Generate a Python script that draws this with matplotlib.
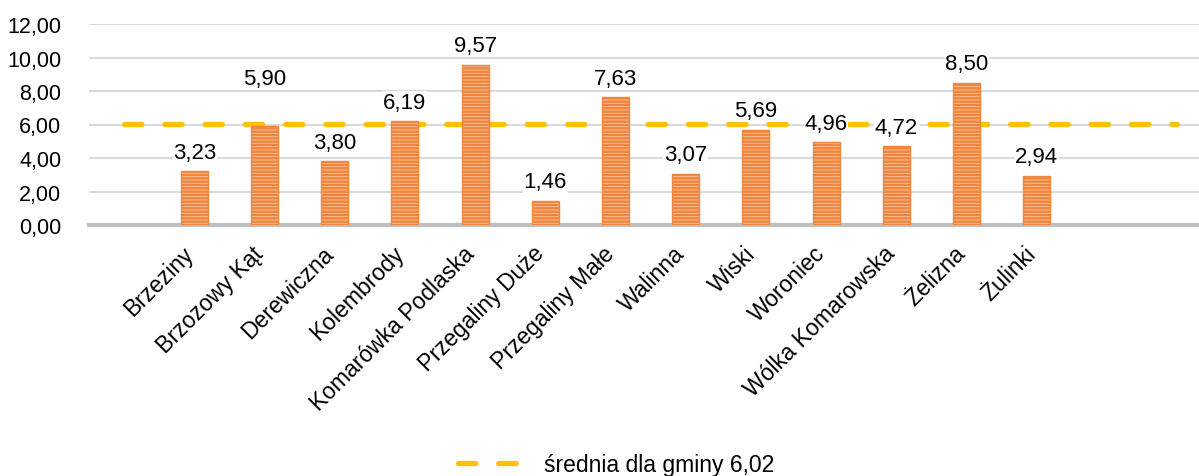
import matplotlib
matplotlib.use("Agg")
import matplotlib.pyplot as plt

plt.rcParams['font.family'] = ['Liberation Sans', 'DejaVu Sans']
plt.rcParams['hatch.linewidth'] = 1.8
plt.rcParams['lines.scale_dashes'] = False

# data
villages = ["Brzeziny", "Brzozowy Kąt", "Derewiczna", "Kolembrody",
            "Komarówka Podlaska", "Przegaliny Duże", "Przegaliny Małe",
            "Walinna", "Wiski", "Woroniec", "Wólka Komarowska",
            "Żelizna", "Żulinki"]
values = [3.23, 5.90, 3.80, 6.19, 9.57, 1.46, 7.63, 3.07, 5.69, 4.96,
          4.72, 8.50, 2.94]
mean_value = 6.02
yticks = [0, 2, 4, 6, 8, 10, 12]


def pl(v):
    return f"{v:.2f}".replace(".", ",")


fig = plt.figure(figsize=(11.99, 4.77), dpi=100)
ax = fig.add_axes([89 / 1199, 1 - 226 / 477, 1 - 89 / 1199, (226 - 25) / 477])

xs = list(range(len(villages)))
ax.bar(xs, values, width=0.385, facecolor="#FBC6A2", edgecolor="#F0853D",
       hatch="-----", linewidth=1.0, zorder=3)

# average line (Excel line series spanning the category slots), behind bars
ax.plot([-1, len(villages) + 1], [mean_value, mean_value], color="#FFC000",
        lw=3.8, dashes=(12.5, 16.5), solid_capstyle="round",
        dash_capstyle="round", zorder=2,
        label="średnia dla gminy " + pl(mean_value))

for i, v in enumerate(values):
    off = 6
    if i == 1:
        off = 27
    ax.annotate(pl(v), (i, v), xytext=(0, off), textcoords="offset points",
                ha="center", va="bottom", fontsize=16,
                bbox=dict(facecolor="white", edgecolor="none", pad=0.5),
                zorder=4)

ax.set_xlim(-1.5, 14.31)
ax.set_ylim(0, 12)
ax.set_yticks(yticks)
ax.set_yticklabels([pl(t) for t in yticks], fontsize=15.5)
ax.set_xticks(xs)
ax.set_xticklabels(villages, rotation=45, ha="right", va="baseline",
                   rotation_mode="anchor", fontsize=16.5)
ax.tick_params(axis="both", length=0)
ax.tick_params(axis="y", pad=20)
ax.tick_params(axis="x", pad=21)

ax.grid(axis="y", color="#D9D9D9", lw=1.4, zorder=0)
ax.set_axisbelow(True)
for s in ["top", "right", "left"]:
    ax.spines[s].set_visible(False)
ax.spines["bottom"].set_color("#BFBFBF")
ax.spines["bottom"].set_linewidth(3)

fig.legend(loc="center", bbox_to_anchor=(0.514, 0.025), frameon=False,
           fontsize=16.5, handlelength=3.3, handletextpad=0.45)

fig.savefig("out.png", dpi=100)
